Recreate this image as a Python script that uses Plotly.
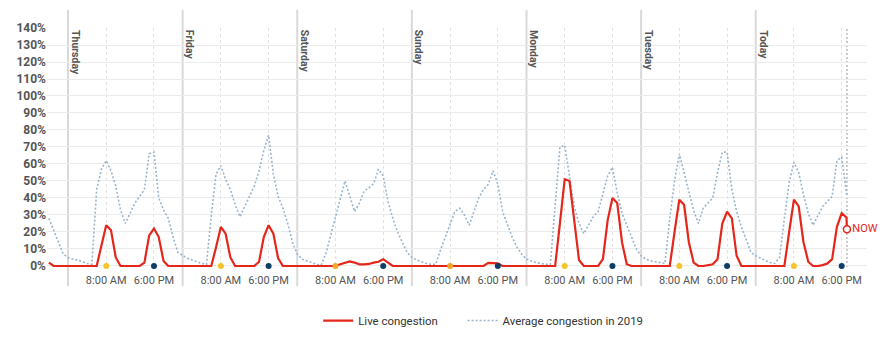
import plotly.graph_objects as go

# ---------------- data ----------------
days = ["Thursday", "Friday", "Saturday", "Sunday", "Monday", "Tuesday", "Today"]
tick_hours = [8, 18]
tick_labels = ["8:00 AM", "6:00 PM"]
start_hour = -4          # Wednesday 20:00, relative to Thursday 00:00
now_hour = 163.1         # "NOW" position (hours since Thursday 00:00)

# Average congestion in 2019 (%), hourly
avg_wed = [28, 21, 13, 7]
avg_thu = [5, 4, 3.5, 2.5, 1.5, 1, 45, 57, 62, 56, 47, 33, 25, 31, 37, 41, 45, 66, 67, 40, 33, 28, 17, 8]
avg_fri = [6, 4.5, 3.5, 2.5, 1.5, 1, 30, 54, 59, 51, 45, 36, 29, 35, 41, 47, 56, 68, 77, 54, 41, 34, 25, 14]
avg_sat = [7, 4, 3, 2, 1, 0.5, 7.4, 18, 28.6, 39, 50, 41, 32, 37, 44, 46, 48.5, 57, 53, 38, 28, 20, 14, 8]
avg_sun = [5, 3.5, 2.5, 1.5, 1, 1, 9.5, 17, 25, 32, 34, 30, 24, 32, 40, 45, 48, 56, 48, 32, 24, 17, 11, 7]
avg_mon = [4, 3, 2, 1.5, 1, 1, 36, 70, 71, 52, 35, 25, 19, 24, 29, 32, 43, 53, 58, 43, 31, 24, 17, 10]
avg_tue = [6, 4, 3, 2.5, 2, 1.5, 28, 50, 66, 55, 43, 32.5, 25, 34, 37, 40, 55, 67, 67, 45, 32, 23, 15.6, 8]
avg_today = [6, 4.5, 3, 2, 1.5, 5, 28, 49, 61, 55, 42, 31, 24, 30, 35, 38, 41, 62, 64]
avg_now = 41

# Live congestion (%), hourly
live_wed = [2, 0, 0, 0]
live_thu = [0, 0, 0, 0, 0, 0, 0, 12, 24, 21, 5, 0, 0, 0, 0, 0, 2, 18, 22, 17, 3, 0, 0, 0]
live_fri = [0, 0, 0, 0, 0, 0, 0, 11, 23, 19, 5, 0, 0, 0, 0, 0, 2.5, 17, 24, 19, 4.5, 0, 0, 0]
live_sat = [0, 0, 0, 0, 0, 0, 0, 0, 0, 1, 2, 2.7, 2, 1, 1, 1.2, 2, 2.5, 4, 2, 0, 0, 0, 0]
live_sun = [0, 0, 0, 0, 0, 0, 0, 0, 0, 0, 0, 0, 0, 0, 0, 0, 1.8, 1.8, 1.5, 0, 0, 0, 0, 0]
live_mon = [0, 0, 0, 0, 0, 0, 0, 25, 51, 50, 25, 3.5, 0, 0, 0, 0, 4, 27, 40, 37, 14, 1, 0, 0]
live_tue = [0, 0, 0, 0, 0, 0, 0, 20, 39, 36, 14, 2, 0, 0, 0.3, 1, 4, 25, 32, 28, 6, 0, 0, 0]
live_today = [0, 0, 0, 0, 0, 0, 0, 20, 39, 35, 14, 2.5, 0, 0, 0.5, 1.5, 4, 23, 31, 28.5]
live_now = 21.6

# peak-hour marker colours per day (8 AM, 6 PM)
am_dot_colors = ["#F6C42C", "#F6C42C", "#F4A52C", "#F4A52C", "#F6C42C", "#F6C42C", "#F6C42C"]
pm_dot_color = "#0E3D66"

# ---------------- build ----------------
RED = "#E4261B"
BLUE = "#9AB4CC"
GREY_TXT = "#555555"
FONT = "Roboto"

avg = avg_wed + avg_thu + avg_fri + avg_sat + avg_sun + avg_mon + avg_tue + avg_today
live = live_wed + live_thu + live_fri + live_sat + live_sun + live_mon + live_tue + live_today
avg_x = [start_hour + i for i in range(len(avg))] + [now_hour]
avg_y = avg + [avg_now]
live_x = [start_hour + i for i in range(len(live))] + [now_hour]
live_y = live + [live_now]

tickvals = [d * 24 + h for d in range(len(days)) for h in tick_hours]
ticktext = [tick_labels[j] for d in range(len(days)) for j in range(len(tick_hours))]

fig = go.Figure()
fig.add_trace(go.Scatter(
    x=avg_x, y=avg_y, mode="lines", name="Average congestion in 2019",
    line=dict(color=BLUE, width=1.6, dash="2px,2px"), legendrank=2, hoverinfo="skip"))
fig.add_trace(go.Scatter(
    x=live_x, y=live_y, mode="lines", name="Live congestion" + "&nbsp;" * 7,
    line=dict(color=RED, width=2.2), legendrank=1, hoverinfo="skip"))

dot_x, dot_c = [], []
for d in range(len(days)):
    dot_x += [d * 24 + tick_hours[0], d * 24 + tick_hours[1]]
    dot_c += [am_dot_colors[d], pm_dot_color]
fig.add_trace(go.Scatter(
    x=dot_x, y=[0] * len(dot_x), mode="markers", showlegend=False, cliponaxis=False,
    marker=dict(size=6, color=dot_c, line=dict(width=0)), hoverinfo="skip"))

fig.add_trace(go.Scatter(
    x=[now_hour], y=[live_now], mode="markers+text", text=["NOW"], textposition="middle right",
    textfont=dict(family=FONT, size=11, color=RED), showlegend=False, cliponaxis=False,
    marker=dict(symbol="circle", size=7, color="white", line=dict(color=RED, width=1.5)),
    hoverinfo="skip"))

shapes = []
for d in range(len(days)):
    shapes.append(dict(type="line", xref="x", yref="paper", x0=d * 24, x1=d * 24,
                       y0=-0.08, y1=1.075, line=dict(color="#D9D9D9", width=2), layer="below"))
shapes.append(dict(type="line", xref="x", yref="paper", x0=now_hour, x1=now_hour,
                   y0=0, y1=1, line=dict(color="#BBBBBB", width=1.5, dash="2px,2px"), layer="below"))

annotations = []
for d, name in enumerate(days):
    annotations.append(dict(x=d * 24, y=1, xref="x", yref="paper", text=name, textangle=90,
                            showarrow=False, xanchor="left", yanchor="top", xshift=-1,
                            font=dict(family=FONT, size=10.5, color=GREY_TXT, weight="bold")))

fig.update_layout(
    width=895, height=347,
    margin=dict(l=47, r=28, t=28, b=78),
    paper_bgcolor="white", plot_bgcolor="white",
    font=dict(family=FONT, size=11, color=GREY_TXT),
    showlegend=True,
    legend=dict(orientation="h", x=0.532, xanchor="center", y=-0.224, yanchor="middle",
                font=dict(family=FONT, size=11.4, color="#333333"), traceorder="normal"),
    shapes=shapes, annotations=annotations,
    xaxis=dict(range=[-4.4, 167.3], tickvals=tickvals, ticktext=ticktext,
               showgrid=True, gridcolor="#E2E2E2", griddash="dot", gridwidth=1,
               zeroline=False, showline=False, ticks="", ticklabelstandoff=5,
               tickfont=dict(family=FONT, size=11, color=GREY_TXT)),
    yaxis=dict(range=[-0.6, 140], tickvals=list(range(0, 141, 10)),
               ticktext=[f"{v}%" for v in range(0, 141, 10)],
               showgrid=True, gridcolor="#EBEBEB", gridwidth=1, zeroline=False,
               showline=False, ticks="",
               tickfont=dict(family=FONT, size=12, color=GREY_TXT, weight="bold")),
)

fig.write_html("out.html")
